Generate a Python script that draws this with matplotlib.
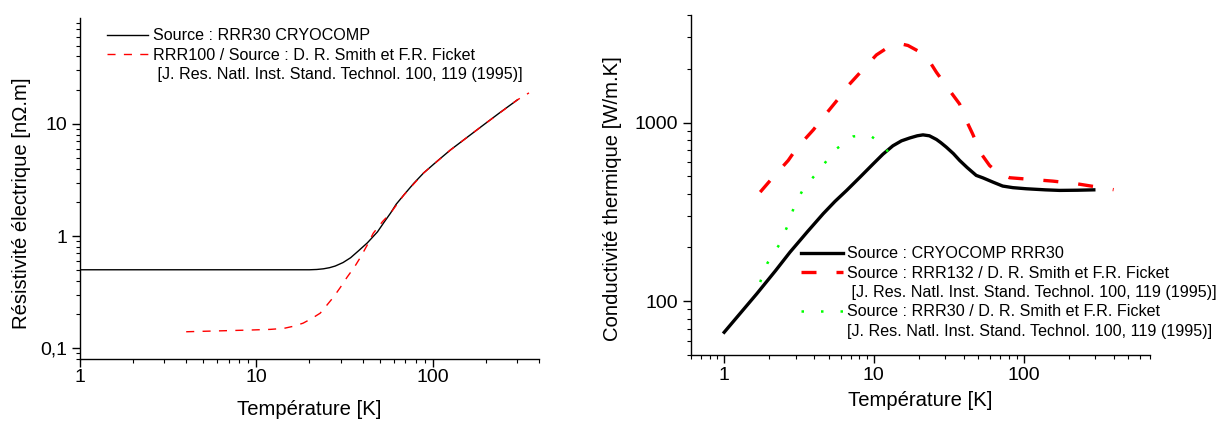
import numpy as np
import matplotlib
matplotlib.use('Agg')
import matplotlib.pyplot as plt
from matplotlib.lines import Line2D
from matplotlib import ticker

plt.rcParams['font.family'] = ['Liberation Sans', 'DejaVu Sans']

# Left panel: electrical resistivity
rho_cryo_T = [1, 5, 10, 15, 20, 22, 24, 26, 28, 31, 34.2, 38, 42.6, 48.6, 53, 57.6, 62, 68.5,
              78, 88.7, 105, 126, 155, 194, 240, 302]
rho_cryo = [0.5, 0.5, 0.5, 0.5, 0.5, 0.503, 0.51, 0.522, 0.54, 0.58, 0.64, 0.74, 0.87, 1.09,
            1.33, 1.6, 1.92, 2.32, 2.95, 3.65, 4.6, 5.86, 7.5, 9.8, 12.6, 16.4]

rho_smith_T = [4, 9.2, 12, 14.3, 16.3, 18.4, 20.5, 23, 25, 27.4, 30, 32.7, 36, 39, 42.5, 46,
               52, 57.6, 68.5, 88.7, 126, 194, 302, 351]
rho_smith = [0.14, 0.145, 0.147, 0.15, 0.157, 0.167, 0.183, 0.205, 0.24, 0.286, 0.35, 0.43,
             0.53, 0.65, 0.83, 1.06, 1.35, 1.6, 2.32, 3.65, 5.86, 9.8, 16.4, 18.9]

# Right panel: thermal conductivity
k_cryo_T = [1, 1.65, 2.2, 2.75, 3.6, 4.59, 5.5, 6.58, 8.07, 9.9, 11.5, 13.4, 15.3, 17.4, 19.5,
            21.3, 23.5, 26.2, 28, 30.5, 34, 37.4, 42, 48.3, 53.6, 62.5, 72.6, 85, 104, 140,
            174, 230, 295]
k_cryo = [67, 110, 148, 188, 245, 309, 362, 417, 494, 587, 665, 741, 790, 820, 843,
          853, 843, 804, 772, 728, 670, 614, 560, 506, 490, 464, 441, 432, 426, 420,
          417, 418, 420]

k_rrr132_T = [1.74, 2.03, 2.68, 3.05, 3.94, 4.59, 5.78, 6.74, 8.71, 10.4, 12.3, 14.2, 15.5,
              16.9, 20, 23, 26.2, 32.1, 37.4, 41.5, 45.7, 52.2, 59.3, 68, 80.7, 157, 224, 400]
k_rrr132 = [408, 474, 614, 718, 910, 1070, 1356, 1610, 2037, 2390, 2620, 2730, 2745,
            2700, 2500, 2270, 1910, 1510, 1270, 1025, 864, 668, 575, 520, 491, 470, 455, 421]

k_rrr30_T = [1.74, 1.95, 2.34, 2.66, 2.94, 3.41, 4.37, 5.44, 7.28, 8.4, 9.64, 11.2, 12.8]
k_rrr30 = [128, 164, 208, 266, 340, 432, 546, 698, 836, 845, 836, 760, 668]

ref = '[J. Res. Natl. Inst. Stand. Technol. 100, 119 (1995)]'

fig = plt.figure(figsize=(12.23, 4.23), dpi=100)
ax1 = fig.add_axes([0.0654, 0.1513, 0.3753, 0.8061])
ax2 = fig.add_axes([0.565, 0.1608, 0.3753, 0.8038])

tick_fs = 14
label_fs = 14.6
leg_fs = 11.6


def style(ax):
    ax.set_xscale('log')
    ax.set_yscale('log')
    for s in ['top', 'right']:
        ax.spines[s].set_visible(False)
    for s in ['left', 'bottom']:
        ax.spines[s].set_linewidth(1.0)
    ax.tick_params(which='major', direction='out', length=6, width=1.0, labelsize=tick_fs)
    ax.tick_params(which='minor', direction='out', length=3, width=0.8)
    ax.xaxis.set_minor_locator(ticker.LogLocator(base=10, subs=np.arange(2, 10), numticks=20))
    ax.yaxis.set_minor_locator(ticker.LogLocator(base=10, subs=np.arange(2, 10), numticks=20))
    ax.xaxis.set_minor_formatter(ticker.NullFormatter())
    ax.yaxis.set_minor_formatter(ticker.NullFormatter())


# ---- left
style(ax1)
ax1.plot(rho_cryo_T, rho_cryo, color='black', lw=1.0, label='Source : RRR30 CRYOCOMP')
ax1.plot(rho_smith_T, rho_smith, color='red', lw=1.0, linestyle=(0, (5.8, 6)),
         label='RRR100 / Source : D. R. Smith et F.R. Ficket')
ax1.set_xlim(1, 400)
ax1.set_ylim(0.08, 88)
ax1.set_xticks([1, 10, 100])
ax1.set_xticklabels(['1', '10', '100'])
ax1.set_yticks([0.1, 1, 10])
ax1.set_yticklabels(['0,1', '1', '10'])
ax1.tick_params(axis='x', which='major', pad=1)
ax1.tick_params(axis='y', which='major', pad=3)
ax1.set_xlabel('Température [K]', fontsize=label_fs, labelpad=10)
ax1.set_ylabel('Résistivité électrique [nΩ.m]', fontsize=label_fs, labelpad=7)
ax1.yaxis.label.set_y(0.456)

h, l = ax1.get_legend_handles_labels()
h.append(Line2D([], [], linestyle='none'))
l.append(' ' + ref)
ax1.legend(h, l, loc='upper left', bbox_to_anchor=(0.059, 0.97), frameon=False,
           fontsize=leg_fs, handlelength=2.57, handletextpad=0.3, labelspacing=0.27,
           borderpad=0, borderaxespad=0)

# ---- right
style(ax2)
ax2.plot(k_cryo_T, k_cryo, color='black', lw=2.4, label='Source : CRYOCOMP RRR30')
ax2.plot(k_rrr132_T, k_rrr132, color='red', lw=2.4, linestyle=(0, (4.5, 6)),
         label='Source : RRR132 / D. R. Smith et F.R. Ficket')
ax2.plot(k_rrr30_T, k_rrr30, color='#00ff00', lw=1.8, linestyle=(0, (1, 6.8)),
         label='Source : RRR30 / D. R. Smith et F.R. Ficket')
ax2.set_xlim(0.6, 700)
ax2.set_ylim(50, 4000)
ax2.set_xticks([1, 10, 100])
ax2.set_xticklabels(['1', '10', '100'])
ax2.set_yticks([100, 1000])
ax2.set_yticklabels(['100', '1000'])
ax2.tick_params(axis='x', which='major', pad=3)
ax2.tick_params(axis='y', which='major', pad=3)
ax2.set_xlabel('Température [K]', fontsize=label_fs, labelpad=5)
ax2.set_ylabel('Conductivité thermique [W/m.K]', fontsize=label_fs, labelpad=9)
ax2.yaxis.label.set_y(0.459)

h, l = ax2.get_legend_handles_labels()
blank = Line2D([], [], linestyle='none')
h = [h[0], h[1], blank, h[2], blank]
l = [l[0], l[1], ' ' + ref, l[2], ref]
ax2.legend(h, l, loc='upper left', bbox_to_anchor=(0.24, 0.32), frameon=False,
           fontsize=leg_fs, handlelength=2.57, handletextpad=0.3, labelspacing=0.27,
           borderpad=0, borderaxespad=0)

fig.savefig('out.png', dpi=100)
